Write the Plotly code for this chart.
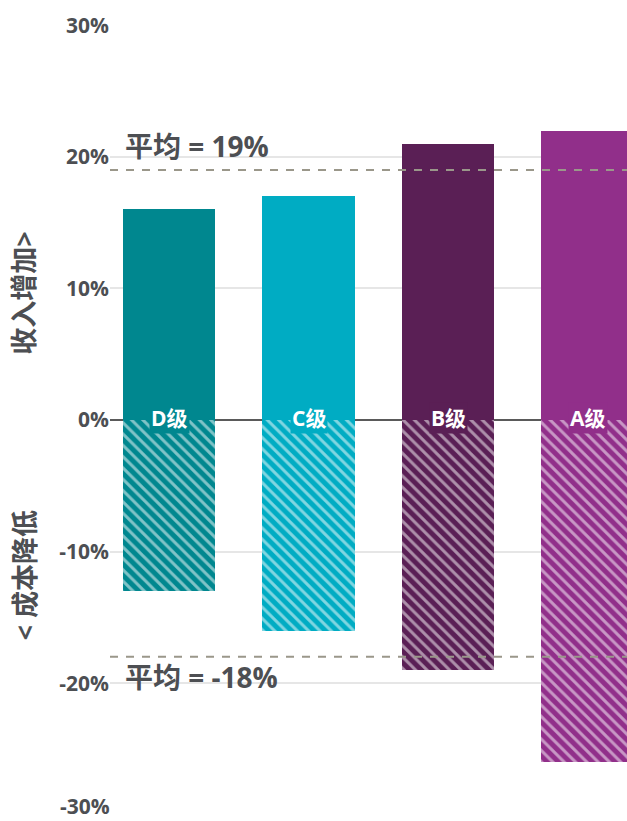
import plotly.graph_objects as go

# Tier data (percent)
tiers = ["D级", "C级", "B级", "A级"]
revenue_gain = [16, 17, 21, 22]
cost_cut = [-13, -16, -19, -26]
avg_gain = 19
avg_cut = -18
colors = ["#00878f", "#00acc3", "#5a1f55", "#912f8a"]
tick_vals = [-30, -20, -10, 0, 10, 20, 30]
tick_text = ["-30%", "-20%", "-10%", "0%", "10%", "20%", "30%"]

FONT = "Open Sans, Noto Sans CJK SC, sans-serif"
TEXT_GREY = "#4d4f53"
x_pos = list(range(len(tiers)))
bar_w = 0.663

fig = go.Figure()
fig.add_trace(go.Bar(
    x=x_pos, y=revenue_gain, width=bar_w,
    marker=dict(color=colors, line=dict(width=0)),
    hoverinfo="skip", showlegend=False,
))
fig.add_trace(go.Bar(
    x=x_pos, y=cost_cut, width=bar_w,
    marker=dict(
        color=colors, line=dict(width=0),
        pattern=dict(shape="\\", fillmode="overlay", fgcolor="white",
                     fgopacity=0.5, size=8, solidity=0.38),
    ),
    hoverinfo="skip", showlegend=False,
))

# Average reference lines
for v in (avg_gain, avg_cut):
    fig.add_shape(type="line", xref="paper", x0=0, x1=1, yref="y", y0=v, y1=v,
                  line=dict(color="#9a978a", width=2, dash="8px,8px"), layer="above")

tick_font = dict(family=FONT, size=21, color=TEXT_GREY, weight="bold")

annotations = [
    dict(xref="paper", x=0.025, yref="y", y=20.8, xanchor="left", yanchor="middle",
         text=f"<b>平均 = {avg_gain}%</b>", showarrow=False,
         font=dict(family=FONT, size=28, color=TEXT_GREY)),
    dict(xref="paper", x=0.025, yref="y", y=-19.5, xanchor="left", yanchor="middle",
         text=f"<b>平均 = {avg_cut}%</b>", showarrow=False,
         font=dict(family=FONT, size=28, color=TEXT_GREY)),
    dict(xref="paper", x=-0.166, yref="y", y=9.6, xanchor="center", yanchor="middle",
         text="<b>收入增加></b>", textangle=-90, showarrow=False,
         font=dict(family=FONT, size=27, color=TEXT_GREY)),
    dict(xref="paper", x=-0.166, yref="y", y=-11.8, xanchor="center", yanchor="middle",
         text="<b>< 成本降低</b>", textangle=-90, showarrow=False,
         font=dict(family=FONT, size=27, color=TEXT_GREY)),
    # bottom tick label sits at the paper edge, so it is placed as an annotation
    # whose box ends at the bottom of the page
    dict(xref="paper", x=0, yref="y", y=tick_vals[0], xanchor="right", yanchor="bottom",
         xshift=1, yshift=-6, borderpad=0, text=tick_text[0], showarrow=False,
         font=tick_font),
]
# Tier labels sitting on the zero line
for i, (t, c) in enumerate(zip(tiers, colors)):
    annotations.append(dict(
        x=i, y=0.15, xref="x", yref="y", text=f"<b>{t}</b>", showarrow=False,
        xanchor="center", yanchor="middle", bgcolor=c, borderpad=1,
        font=dict(family=FONT, size=21, color="white"),
    ))

fig.update_layout(
    width=627, height=821,
    margin=dict(l=110, r=0, t=25, b=6),
    plot_bgcolor="white", paper_bgcolor="white",
    barmode="relative",
    bargap=0,
    annotations=annotations,
    font=dict(family=FONT, color=TEXT_GREY),
    xaxis=dict(range=[-0.423, 3.283], showticklabels=False, showgrid=False,
               zeroline=False, showline=False, fixedrange=True),
    yaxis=dict(range=[-30.02, 30.02], tickvals=tick_vals,
               ticktext=[""] + tick_text[1:],
               tickfont=tick_font,
               showgrid=True, gridcolor="#e6e6e6", gridwidth=2,
               zeroline=True, zerolinecolor="#5a5a5a", zerolinewidth=2,
               showline=False, ticks="", ticklabelstandoff=0),
)

fig.write_html("out.html")
